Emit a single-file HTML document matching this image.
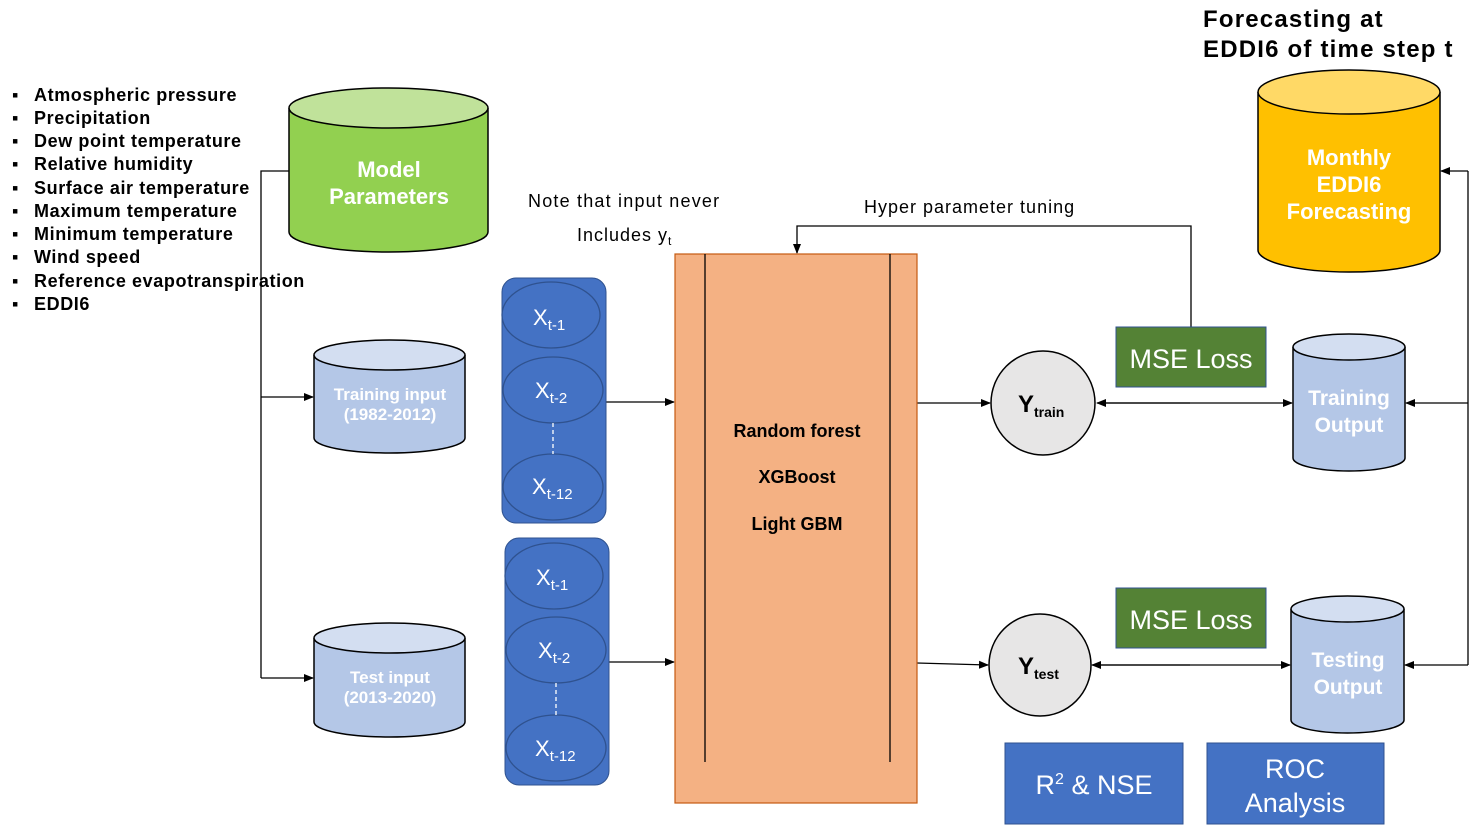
<!DOCTYPE html>
<html><head><meta charset="utf-8"><style>body{margin:0;background:#fff}svg{display:block}text{font-family:"Liberation Sans",sans-serif}</style></head><body>
<svg width="1479" height="834" viewBox="0 0 1479 834" xmlns="http://www.w3.org/2000/svg">
<defs><marker id="a" markerWidth="10" markerHeight="10" refX="9" refY="5" orient="auto" markerUnits="userSpaceOnUse"><path d="M0,1 L10,5 L0,9z" fill="#000"/></marker></defs>
<g font-size="18" font-weight="bold" fill="#000" letter-spacing="0.6">
<text x="12" y="101">▪</text><text x="34" y="101">Atmospheric pressure</text>
<text x="12" y="124">▪</text><text x="34" y="124">Precipitation</text>
<text x="12" y="147">▪</text><text x="34" y="147">Dew point temperature</text>
<text x="12" y="170">▪</text><text x="34" y="170">Relative humidity</text>
<text x="12" y="194">▪</text><text x="34" y="194">Surface air temperature</text>
<text x="12" y="217">▪</text><text x="34" y="217">Maximum temperature</text>
<text x="12" y="240">▪</text><text x="34" y="240">Minimum temperature</text>
<text x="12" y="263">▪</text><text x="34" y="263">Wind speed</text>
<text x="12" y="287">▪</text><text x="34" y="287">Reference evapotranspiration</text>
<text x="12" y="310">▪</text><text x="34" y="310">EDDI6</text>
</g>
<g font-size="24" font-weight="bold" letter-spacing="1.2">
<text x="1203" y="27">Forecasting at</text>
<text x="1203" y="57">EDDI6 of time step t</text>
</g>
<text x="528" y="207" font-size="18" letter-spacing="1.2">Note that input never</text>
<text x="577" y="241" font-size="18" letter-spacing="1">Includes y<tspan font-size="12" dy="4">t</tspan></text>
<text x="864" y="213" font-size="18" letter-spacing="1">Hyper parameter tuning</text>
<g fill="none" stroke="#000" stroke-width="1.3">
<path d="M289,171 H261 V678"/>
<path d="M261,397 H313" marker-end="url(#a)"/>
<path d="M261,678 H313" marker-end="url(#a)"/>
<path d="M606,402 H674" marker-end="url(#a)"/>
<path d="M609,662 H674" marker-end="url(#a)"/>
<path d="M917,403 H990" marker-end="url(#a)"/>
<path d="M917,663 L988,665" marker-end="url(#a)"/>
<path d="M1105,403 H1292" marker-end="url(#a)"/>
<path d="M1190,403 H1097" marker-end="url(#a)"/>
<path d="M1100,665 H1290" marker-end="url(#a)"/>
<path d="M1190,665 H1092" marker-end="url(#a)"/>
<path d="M1191,327 V226 H797 V253" marker-end="url(#a)"/>
<path d="M1468,171 V665"/>
<path d="M1468,171 H1441" marker-end="url(#a)"/>
<path d="M1468,403 H1406" marker-end="url(#a)"/>
<path d="M1468,665 H1405" marker-end="url(#a)"/>
</g>
<g stroke="#000" stroke-width="1.5">
<path d="M289,108 V232 A99.5,20 0 0 0 488,232 V108" fill="#92d050"/><ellipse cx="388.5" cy="108" rx="99.5" ry="20" fill="#c0e29a"/>
<path d="M314,355 V438 A75.5,15 0 0 0 465,438 V355" fill="#b4c7e7"/><ellipse cx="389.5" cy="355" rx="75.5" ry="15" fill="#d3def1"/>
<path d="M314,638 V722 A75.5,15 0 0 0 465,722 V638" fill="#b4c7e7"/><ellipse cx="389.5" cy="638" rx="75.5" ry="15" fill="#d3def1"/>
<path d="M1258,92 V250 A91,22 0 0 0 1440,250 V92" fill="#ffc000"/><ellipse cx="1349" cy="92" rx="91" ry="22" fill="#ffd966"/>
<path d="M1293,347 V458 A56,13 0 0 0 1405,458 V347" fill="#b4c7e7"/><ellipse cx="1349" cy="347" rx="56" ry="13" fill="#d3def1"/>
<path d="M1291,609 V720 A56.5,13 0 0 0 1404,720 V609" fill="#b4c7e7"/><ellipse cx="1347.5" cy="609" rx="56.5" ry="13" fill="#d3def1"/>
</g>
<g fill="#fff" font-weight="bold" text-anchor="middle">
<text x="389" y="177" font-size="22">Model</text><text x="389" y="204" font-size="22">Parameters</text>
<text x="390" y="400" font-size="17">Training input</text><text x="390" y="420" font-size="17">(1982-2012)</text>
<text x="390" y="683" font-size="17">Test input</text><text x="390" y="703" font-size="17">(2013-2020)</text>
<text x="1349" y="165" font-size="22">Monthly</text><text x="1349" y="192" font-size="22">EDDI6</text><text x="1349" y="219" font-size="22">Forecasting</text>
<text x="1349" y="405" font-size="21">Training</text><text x="1349" y="432" font-size="21">Output</text>
<text x="1348" y="667" font-size="21">Testing</text><text x="1348" y="694" font-size="21">Output</text>
</g>
<rect x="502" y="278" width="104" height="245" rx="14" fill="#4472c4" stroke="#2f528f"/>
<rect x="505" y="538" width="104" height="247" rx="14" fill="#4472c4" stroke="#2f528f"/>
<g fill="#4472c4" stroke="#2f528f" stroke-width="1.3">
<ellipse cx="551" cy="315" rx="49" ry="33"/><ellipse cx="553" cy="390" rx="50" ry="33"/><ellipse cx="553" cy="487" rx="50" ry="33"/>
<ellipse cx="554" cy="576" rx="49" ry="33"/><ellipse cx="556" cy="650" rx="50" ry="33"/><ellipse cx="556" cy="748" rx="50" ry="33"/>
</g>
<g stroke="#fff" stroke-dasharray="4,3" stroke-width="1.3"><path d="M553,423 V454"/><path d="M556,683 V715"/></g>
<g fill="#fff" font-size="22">
<text x="533" y="325">X<tspan font-size="15" dy="5">t-1</tspan></text>
<text x="535" y="398">X<tspan font-size="15" dy="5">t-2</tspan></text>
<text x="532" y="494">X<tspan font-size="15" dy="5">t-12</tspan></text>
<text x="536" y="585">X<tspan font-size="15" dy="5">t-1</tspan></text>
<text x="538" y="658">X<tspan font-size="15" dy="5">t-2</tspan></text>
<text x="535" y="756">X<tspan font-size="15" dy="5">t-12</tspan></text>
</g>
<rect x="675" y="254" width="242" height="549" fill="#f4b183" stroke="#c55a11" stroke-width="1.2"/>
<path d="M705,254 V762 M890,254 V762" stroke="#000" stroke-width="1.3"/>
<g font-size="18" font-weight="bold" text-anchor="middle">
<text x="797" y="437">Random forest</text><text x="797" y="483">XGBoost</text><text x="797" y="530">Light GBM</text>
</g>
<circle cx="1043" cy="403" r="52" fill="#e7e6e6" stroke="#000" stroke-width="1.5"/>
<circle cx="1040" cy="665" r="51" fill="#e7e6e6" stroke="#000" stroke-width="1.5"/>
<text x="1018" y="412" font-size="24" font-weight="bold">Y<tspan font-size="14" dy="5">train</tspan></text>
<text x="1018" y="674" font-size="24" font-weight="bold">Y<tspan font-size="14" dy="5">test</tspan></text>
<rect x="1116" y="327" width="150" height="60" fill="#548235" stroke="#2f528f"/>
<rect x="1116" y="588" width="150" height="60" fill="#548235" stroke="#2f528f"/>
<rect x="1005" y="743" width="178" height="81" fill="#4472c4" stroke="#2f528f"/>
<rect x="1207" y="743" width="177" height="81" fill="#4472c4" stroke="#2f528f"/>
<g fill="#fff" font-size="27" text-anchor="middle">
<text x="1191" y="368">MSE Loss</text><text x="1191" y="629">MSE Loss</text>
<text x="1094" y="794">R<tspan font-size="16" dy="-10">2</tspan><tspan dy="10"> &amp; NSE</tspan></text>
<text x="1295" y="778">ROC</text><text x="1295" y="812">Analysis</text>
</g>
</svg>
</body></html>
